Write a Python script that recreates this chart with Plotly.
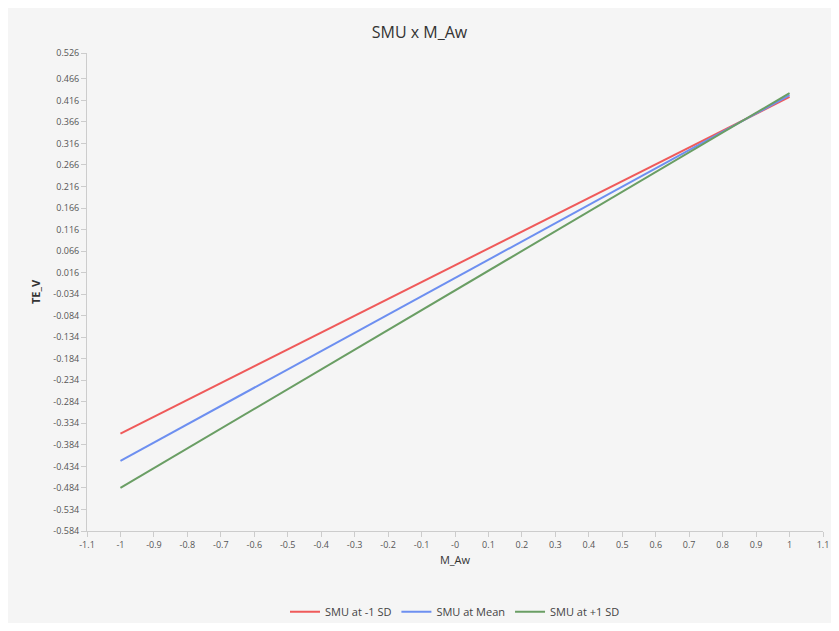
import plotly.graph_objects as go

x_vals = [-1, 1]
series_names = ["SMU at -1 SD", "SMU at Mean", "SMU at +1 SD"]
series_values = [
    [-0.358, 0.424],
    [-0.421, 0.428],
    [-0.484, 0.433],
]
colors = ["#ef5a5a", "#6d8ff0", "#6a9e64"]

y_ticks = [round(-0.584 + 0.05 * k, 3) for k in range(22)] + [0.526]
y_labels = [f"{v:.3f}" for v in y_ticks]
x_ticks = [round(-1.1 + 0.1 * k, 1) for k in range(23)]
x_labels = ["-1.1", "-1", "-0.9", "-0.8", "-0.7", "-0.6", "-0.5", "-0.4", "-0.3", "-0.2", "-0.1", "-0",
            "0.1", "0.2", "0.3", "0.4", "0.5", "0.6", "0.7", "0.8", "0.9", "1", "1.1"]

fig = go.Figure()
for name, vals, c in zip(series_names, series_values, colors):
    fig.add_trace(go.Scatter(x=x_vals, y=vals, mode="lines", name=name,
                             line=dict(color=c, width=2)))

font = "Open Sans, Noto Sans, sans-serif"
fig.update_layout(
    width=823, height=615,
    margin=dict(l=79, r=8, t=45, b=92, autoexpand=False),
    paper_bgcolor="#f5f5f5", plot_bgcolor="#f5f5f5",
    title=dict(text="SMU x M_Aw", x=0.5, xanchor="center", y=0.961, yanchor="middle",
               font=dict(family=font, size=16, color="#333")),
    font=dict(family=font, color="#555"),
    showlegend=True,
    legend=dict(orientation="h", x=0.5, xanchor="center", y=-0.169, yanchor="middle",
                font=dict(size=11, color="#444"), itemwidth=30, bgcolor="rgba(0,0,0,0)"),
    xaxis=dict(range=[-1.1, 1.1], tickvals=x_ticks, ticktext=x_labels,
               showgrid=False, zeroline=False, showline=True, linecolor="#cccccc",
               ticks="outside", ticklen=5, tickcolor="#cccccc",
               tickfont=dict(size=9, color="#555"),
               title=dict(text="M_Aw", font=dict(size=11, color="#333"), standoff=6)),
    yaxis=dict(range=[-0.584, 0.526], tickvals=y_ticks, ticktext=y_labels,
               showgrid=False, zeroline=False, showline=True, linecolor="#cccccc",
               ticks="outside", ticklen=5, tickcolor="#cccccc",
               tickfont=dict(size=9, color="#555"),
               title=dict(text="<b>TE_V</b>", font=dict(size=11, color="#333"), standoff=10)),
)

fig.write_html("out.html")
